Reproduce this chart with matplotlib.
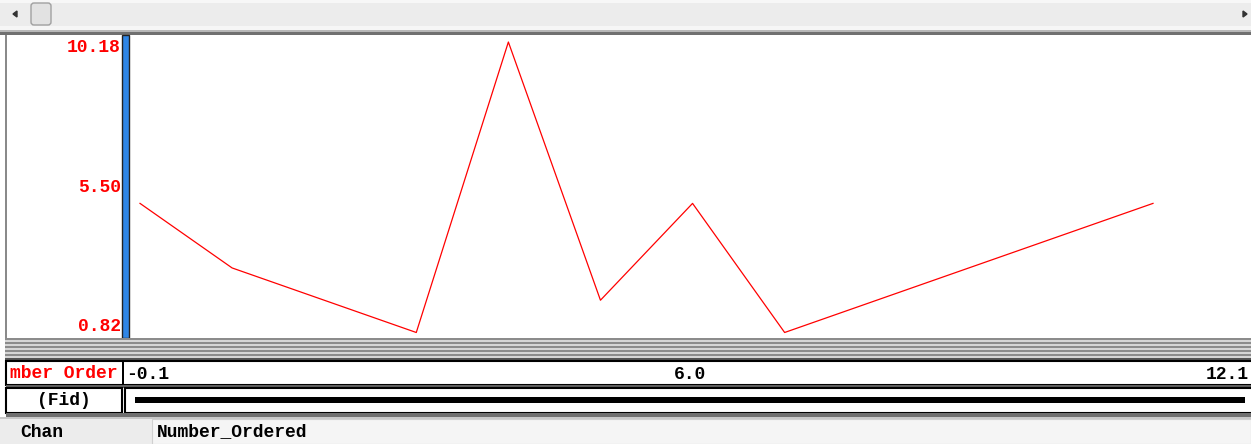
import matplotlib
matplotlib.use("Agg")
import matplotlib.pyplot as plt
import matplotlib.transforms as mtransforms
from matplotlib.patches import Rectangle, FancyBboxPatch, Polygon

# data
fid = [0, 1, 3, 4, 5, 6, 7, 11]
number_ordered = [5, 3, 1, 10, 2, 5, 1, 5]
y_labels = ["10.18", "5.50", "0.82"]
y_min, y_max = 0.82, 10.18
x_min, x_max = -0.1, 12.1
x_labels = ["-0.1", "6.0", "12.1"]
channel = "Number_Ordered"

W, H = 1251, 444
FONT = "Liberation Mono"
RED = "#ff0000"

fig = plt.figure(figsize=(W / 100, H / 100), dpi=100)
fig.patch.set_facecolor("white")


def frac(x0, y0, x1, y1):
    # pixel box (top-left origin) -> figure fraction rect
    return [x0 / W, 1 - y1 / H, (x1 - x0) / W, (y1 - y0) / H]


# background / chrome in pixel coordinates
bg = fig.add_axes([0, 0, 1, 1], zorder=0)
bg.set_xlim(0, W)
bg.set_ylim(H, 0)
bg.axis("off")


def box(x0, y0, x1, y1, **kw):
    bg.add_patch(Rectangle((x0, y0), x1 - x0, y1 - y0, **kw))


# scrollbar
box(0, 0, W, 30, facecolor="#ececec", edgecolor="none")
box(0, 0, W, 3, facecolor="#f7f7f7", edgecolor="none")
box(0, 26, W, 30, facecolor="#f6f6f6", edgecolor="none")
bg.add_patch(FancyBboxPatch((31, 3), 20, 22, boxstyle="round,pad=0,rounding_size=3",
                            facecolor="#e2e2e2", edgecolor="#a0a0a0", lw=1))
bg.add_patch(Polygon([[13, 14], [17, 11], [17, 17]], closed=True, color="#333333"))
bg.add_patch(Polygon([[1247, 14], [1243, 11], [1243, 17]], closed=True, color="#333333"))
box(0, 30, W, 32, facecolor="#b8b8b8", edgecolor="none")
box(0, 32, W, 35, facecolor="#707070", edgecolor="none")

# plot panel
box(0, 35, W, 339, facecolor="white", edgecolor="none")
box(5, 35, 7, 339, facecolor="#8a8a8a", edgecolor="none")
box(122, 35, 129, 338, facecolor="#2f86e6", edgecolor="#222222", lw=1)

# striped separator
for i, y in enumerate(range(338, 360, 2)):
    box(5, y, W, y + 2, facecolor="#8c8c8c" if i % 2 == 0 else "#d6d6d6", edgecolor="none")
box(5, 358, W, 361, facecolor="#555555", edgecolor="none")

# axis row
box(6, 361, W + 5, 385, facecolor="white", edgecolor="black", lw=1.5)
box(122, 361, 124, 385, facecolor="black", edgecolor="none")
box(6, 385, W, 388, facecolor="#606060", edgecolor="none")

# fid row
box(6, 388, 122, 413, facecolor="white", edgecolor="black", lw=1.5)
box(125, 388, W + 5, 413, facecolor="white", edgecolor="black", lw=1.5)
box(6, 413, W, 417, facecolor="#707070", edgecolor="none")
box(0, 417, W, 419, facecolor="#c8c8c8", edgecolor="none")
box(135, 397, 1245, 403, facecolor="black", edgecolor="none")

# channel row
box(0, 419, W, H, facecolor="#ececec", edgecolor="none")
box(152, 419, W, H, facecolor="#f5f5f5", edgecolor="#d0d0d0", lw=0.8)

tkw = dict(family=FONT, fontweight="bold", fontsize=13)
bg.text(118, 373, "mber Order", color=RED, ha="right", va="center", **tkw)
bg.text(64, 400, "(Fid)", color="black", ha="center", va="center", **tkw)
bg.text(20, 432, "Chan", color="black", ha="left", va="center", **tkw)
bg.text(157, 432, channel, color="black", ha="left", va="center", **tkw)

# profile axes: x from fid scale, y from channel scale
ax = fig.add_axes(frac(130.8, 36.2, 1254.3, 338.3), zorder=2)
ax.set_facecolor("none")
ax.plot(fid, number_ordered, color=RED, lw=0.9)
ax.set_xlim(x_min, x_max)
ax.set_ylim(y_min, y_max)
ax.set_xticks([])
ax.set_yticks([])
for s in ax.spines.values():
    s.set_visible(False)

# y labels on the left of the blue bar
ylab_tr = mtransforms.blended_transform_factory(bg.transData, ax.transData)
yvals = [float(v) for v in y_labels]
for v, lab in zip(yvals, y_labels):
    va = "top" if v == y_max else ("bottom" if v == y_min else "center")
    off = -0.1 if v == y_max else (0.1 if v == y_min else 0)
    ax.text(121, v + off, lab, color=RED, ha="right", va=va, transform=ylab_tr, **tkw)

# x labels in the axis row (nudged a few pixels left, last one kept inside)
xlab_tr = mtransforms.blended_transform_factory(ax.transData, bg.transData)
xvals = [float(v) for v in x_labels]
aligns = ["left", "center", "right"]
nudges = [-5, -3, -6]
for v, lab, ha, dx in zip(xvals, x_labels, aligns, nudges):
    tr = xlab_tr + mtransforms.ScaledTranslation(dx / 100, 0, fig.dpi_scale_trans)
    ax.text(v, 374, lab, color="black", ha=ha, va="center", transform=tr,
            clip_on=False, **tkw)

fig.savefig("out.png", dpi=100)
